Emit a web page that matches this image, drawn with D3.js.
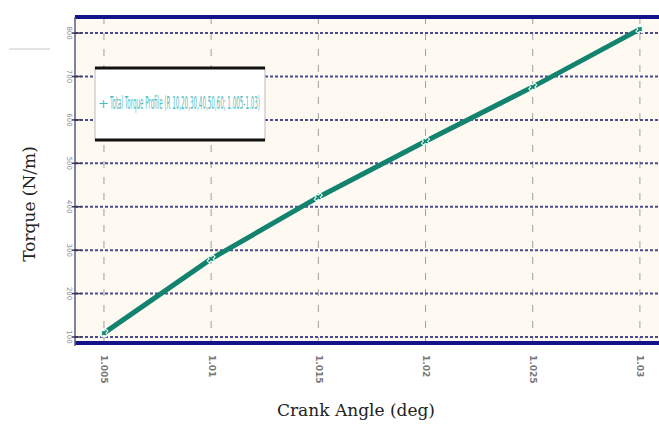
<!DOCTYPE html>
<html>
<head>
<meta charset="utf-8">
<script src="https://cdn.jsdelivr.net/npm/d3@7"></script>
<style>
body { margin: 0; background: #ffffff; }
svg { display: block; }
</style>
</head>
<body>
<div id="chart"></div>
<script>
// crank angle positions and torque readings
let crankAngles = [1.005, 1.01, 1.015, 1.02, 1.025, 1.03];
let torqueValues = [1.09, 2.8, 4.22, 5.51, 6.76, 8.09];
let xTickLabels = ["1.005", "1.01", "1.015", "1.02", "1.025", "1.03"];
let yTicks = [1, 2, 3, 4, 5, 6, 7, 8];
let yTickLabels = ["100", "200", "300", "400", "500", "600", "700", "800"];
let legendText = "Total Torque Profile (R 10,20,30,40,50,60; 1.005-1.03)";

let chartW = 659, chartH = 424;
let plotLeft = 75, plotRight = 659, plotTop = 17, plotBottom = 343;

let svg = d3.select("#chart").append("svg").attr("width", chartW).attr("height", chartH);

let x = d3.scaleLinear().domain([1.00365, 1.03089]).range([plotLeft, plotRight]);
let y = d3.scaleLinear().domain([0.862, 8.37]).range([plotBottom, plotTop]);

// plot background
svg.append("rect").attr("x", plotLeft).attr("y", plotTop).attr("width", plotRight - plotLeft).attr("height", plotBottom - plotTop)
    .attr("fill", "#fffaf1");

// vertical grid (light dashed)
svg.append("g").selectAll("line").data(crankAngles).join("line")
    .attr("x1", d => x(d)).attr("x2", d => x(d)).attr("y1", plotTop).attr("y2", plotBottom)
    .attr("stroke", "#a0a0a0").attr("stroke-width", 1).attr("stroke-dasharray", "7,9");

// horizontal grid (dark blue dotted)
svg.append("g").selectAll("line").data(yTicks).join("line")
    .attr("x1", plotLeft).attr("x2", plotRight).attr("y1", d => y(d)).attr("y2", d => y(d))
    .attr("stroke", "#4a4a94").attr("stroke-width", 2).attr("stroke-dasharray", "3,2");

// borders
svg.append("line").attr("x1", plotLeft).attr("x2", plotRight).attr("y1", plotTop).attr("y2", plotTop)
    .attr("stroke", "#14148a").attr("stroke-width", 4);
svg.append("line").attr("x1", plotLeft).attr("x2", plotRight).attr("y1", plotBottom).attr("y2", plotBottom)
    .attr("stroke", "#14148a").attr("stroke-width", 4);
svg.append("line").attr("x1", plotLeft).attr("x2", plotLeft).attr("y1", plotTop).attr("y2", plotBottom + 3)
    .attr("stroke", "#5a5a7a").attr("stroke-width", 1.5);

// y axis ticks + rotated labels
let yAxis = svg.append("g");
yTicks.forEach((t, i) => {
    yAxis.append("line").attr("x1", plotLeft - 3).attr("x2", plotLeft + 6).attr("y1", y(t)).attr("y2", y(t))
        .attr("stroke", "#333355").attr("stroke-width", 1.5);
    yAxis.append("text").text(yTickLabels[i])
        .attr("transform", "translate(" + (plotLeft - 6) + "," + y(t) + ") rotate(90)")
        .attr("text-anchor", "middle").attr("dominant-baseline", "middle")
        .attr("fill", "#8888a0").attr("style", "font: 7px 'DejaVu Sans'");
});

// x tick labels (rotated)
let xAxis = svg.append("g");
crankAngles.forEach((a, i) => {
    xAxis.append("text").text(xTickLabels[i])
        .attr("transform", "translate(" + x(a) + "," + (plotBottom + 12) + ") rotate(90)")
        .attr("text-anchor", "start").attr("dominant-baseline", "middle")
        .attr("fill", "#777").attr("style", "font: bold 9px 'DejaVu Sans'");
});

// torque line
let line = d3.line().x((d, i) => x(crankAngles[i])).y(d => y(d));
svg.append("path").datum(torqueValues).attr("d", line)
    .attr("fill", "none").attr("stroke", "#12836f").attr("stroke-width", 5).attr("stroke-linecap", "round");

// markers
svg.append("g").selectAll("path").data(torqueValues).join("path")
    .attr("d", d3.symbol().type(d3.symbolCross).size(40))
    .attr("transform", (d, i) => "translate(" + x(crankAngles[i]) + "," + y(d) + ") rotate(45)")
    .attr("fill", "none").attr("stroke", "#e8fff8").attr("stroke-width", 1);

// legend
let lg = svg.append("g").attr("transform", "translate(95,68)");
lg.append("rect").attr("width", 170).attr("height", 72).attr("fill", "#ffffff")
    .attr("stroke", "#bbbbbb").attr("stroke-width", 1);
lg.append("line").attr("x1", 0).attr("x2", 170).attr("y1", 0).attr("y2", 0).attr("stroke", "#111").attr("stroke-width", 3);
lg.append("line").attr("x1", 0).attr("x2", 170).attr("y1", 72).attr("y2", 72).attr("stroke", "#111").attr("stroke-width", 3);
lg.append("text").text("+").attr("x", 3).attr("y", 36).attr("dominant-baseline", "middle")
    .attr("fill", "#4bbcc4").attr("style", "font: 13px 'DejaVu Sans'");
lg.append("text").text(legendText).attr("x", 15).attr("y", 36).attr("dominant-baseline", "middle")
    .attr("textLength", 150).attr("lengthAdjust", "spacingAndGlyphs")
    .attr("fill", "#4bbcc4").attr("style", "font: 17px 'Liberation Sans Narrow', 'DejaVu Sans'");

// stray short line at top-left
svg.append("line").attr("x1", 9).attr("x2", 50).attr("y1", 49).attr("y2", 49)
    .attr("stroke", "#c8c8c8").attr("stroke-width", 1);

// axis titles
svg.append("text").text("Crank Angle (deg)").attr("x", 356).attr("y", 416)
    .attr("text-anchor", "middle").attr("fill", "#222").attr("style", "font: 17px 'DejaVu Serif'");
svg.append("text").text("Torque (N/m)")
    .attr("transform", "translate(35,204) rotate(-90)")
    .attr("text-anchor", "middle").attr("fill", "#222").attr("style", "font: 17px 'DejaVu Serif'");
</script>
</body>
</html>
